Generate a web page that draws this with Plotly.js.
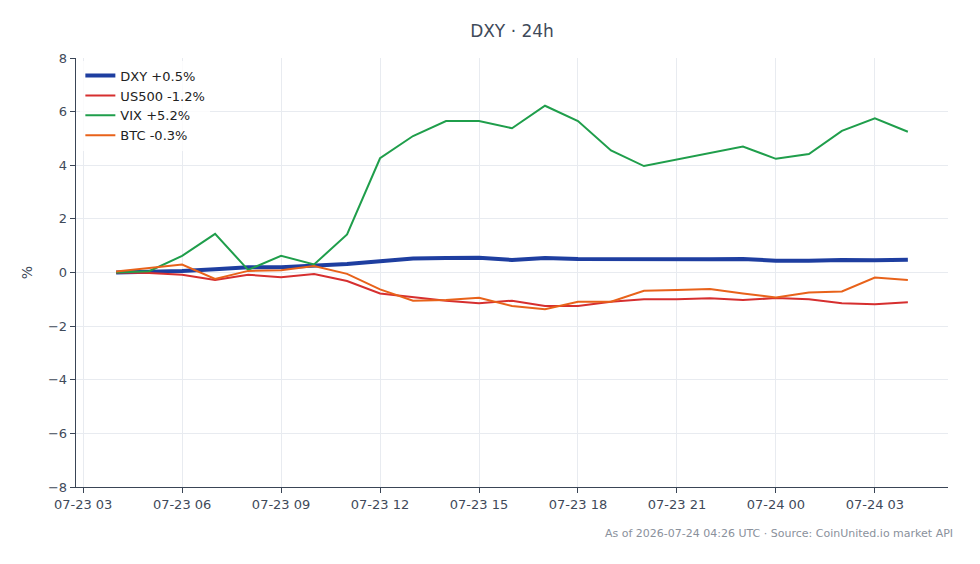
<!DOCTYPE html>
<html>
<head>
<meta charset="utf-8">
<script src="https://cdn.plot.ly/plotly-3.0.1.min.js"></script>
<style>html,body{margin:0;padding:0;background:#fff;}#chart{width:980px;height:564px;}</style>
</head>
<body>
<div id="chart"></div>
<script>
const times = [
  "2026-07-23 04:00","2026-07-23 05:00","2026-07-23 06:00","2026-07-23 07:00","2026-07-23 08:00",
  "2026-07-23 09:00","2026-07-23 10:00","2026-07-23 11:00","2026-07-23 12:00","2026-07-23 13:00",
  "2026-07-23 14:00","2026-07-23 15:00","2026-07-23 16:00","2026-07-23 17:00","2026-07-23 18:00",
  "2026-07-23 19:00","2026-07-23 20:00","2026-07-23 21:00","2026-07-23 22:00","2026-07-23 23:00",
  "2026-07-24 00:00","2026-07-24 01:00","2026-07-24 02:00","2026-07-24 03:00","2026-07-24 04:00"
];
const dxy   = [0.00, 0.02, 0.06, 0.12, 0.20, 0.20, 0.26, 0.32, 0.42, 0.52, 0.54, 0.55, 0.47, 0.54, 0.50, 0.49, 0.49, 0.48, 0.49, 0.50, 0.44, 0.44, 0.47, 0.46, 0.48];
const us500 = [0.00, -0.02, -0.08, -0.28, -0.08, -0.18, -0.06, -0.32, -0.78, -0.92, -1.05, -1.15, -1.05, -1.25, -1.25, -1.09, -1.00, -1.00, -0.96, -1.03, -0.95, -1.00, -1.15, -1.18, -1.11];
const vix   = [0.00, 0.05, 0.62, 1.44, 0.10, 0.62, 0.30, 1.42, 4.26, 5.09, 5.65, 5.65, 5.38, 6.22, 5.65, 4.55, 3.97, 4.22, 4.45, 4.70, 4.24, 4.42, 5.28, 5.75, 5.25];
const btc   = [0.04, 0.16, 0.30, -0.24, 0.06, 0.08, 0.24, -0.05, -0.63, -1.05, -1.03, -0.94, -1.25, -1.37, -1.09, -1.09, -0.68, -0.65, -0.62, -0.78, -0.93, -0.75, -0.71, -0.19, -0.28];
const names = ["DXY +0.5%", "US500 -1.2%", "VIX +5.2%", "BTC -0.3%"];
const colors = ["#1e3ea0", "#d62f2f", "#1f9e4b", "#e8621a"];
const widths = [4, 2, 2, 2];
const series = [dxy, us500, vix, btc];
const yTicks = [-8, -6, -4, -2, 0, 2, 4, 6, 8];
const xTickVals = ["2026-07-23 03:00","2026-07-23 06:00","2026-07-23 09:00","2026-07-23 12:00","2026-07-23 15:00","2026-07-23 18:00","2026-07-23 21:00","2026-07-24 00:00","2026-07-24 03:00"];
const xTickText = ["07-23 03","07-23 06","07-23 09","07-23 12","07-23 15","07-23 18","07-23 21","07-24 00","07-24 03"];

const traces = series.map((s, i) => ({
  x: times, y: s, type: "scatter", mode: "lines", name: names[i],
  line: {color: colors[i], width: widths[i]}
}));

const font = "DejaVu Sans, sans-serif";
const layout = {
  width: 980, height: 564,
  margin: {l: 76, r: 32, t: 58, b: 77},
  paper_bgcolor: "#fff", plot_bgcolor: "#fff",
  font: {family: font, size: 13, color: "#3f4a5a"},
  title: {text: "DXY · 24h", x: 0.5, xref: "paper", y: 0.945, yref: "container", yanchor: "middle", font: {family: font, size: 17, color: "#3f4a5a"}},
  showlegend: true,
  legend: {x: 0.005, y: 0.994, xanchor: "left", yanchor: "top", bgcolor: "rgba(255,255,255,0.8)", font: {family: font, size: 13, color: "#222"}, tracegroupgap: 0},
  xaxis: {
    type: "date",
    range: ["2026-07-23 02:47", "2026-07-24 05:13"],
    tickvals: xTickVals, ticktext: xTickText,
    showgrid: true, gridcolor: "#e8ebf0", gridwidth: 1,
    showline: true, linecolor: "#3a4556", linewidth: 1.3,
    ticks: "outside", ticklen: 5, tickcolor: "#3a4556",
    tickfont: {family: font, size: 13, color: "#3f4a5a"},
    zeroline: false
  },
  yaxis: {
    range: [-8, 8], tickvals: yTicks,
    title: {text: "%", font: {family: font, size: 14, color: "#3f4a5a"}, standoff: 12},
    showgrid: true, gridcolor: "#e8ebf0", gridwidth: 1,
    showline: true, linecolor: "#3a4556", linewidth: 1.3,
    ticks: "outside", ticklen: 5, tickcolor: "#3a4556",
    tickfont: {family: font, size: 13, color: "#3f4a5a"},
    zeroline: false
  },
  shapes: [{type: "line", xref: "paper", x0: 0, x1: 1, yref: "y", y0: 0, y1: 0, line: {color: "#8a9ab0", width: 1, dash: "dash"}, layer: "below"}],
  annotations: [{
    text: "As of 2026-07-24 04:26 UTC · Source: CoinUnited.io market API",
    xref: "paper", yref: "paper", x: 1.008, y: -0.089, xanchor: "right", yanchor: "top",
    showarrow: false, font: {family: font, size: 11, color: "#8a919c"}
  }]
};
Plotly.newPlot("chart", traces, layout, {displayModeBar: false, staticPlot: true});
</script>
</body>
</html>
